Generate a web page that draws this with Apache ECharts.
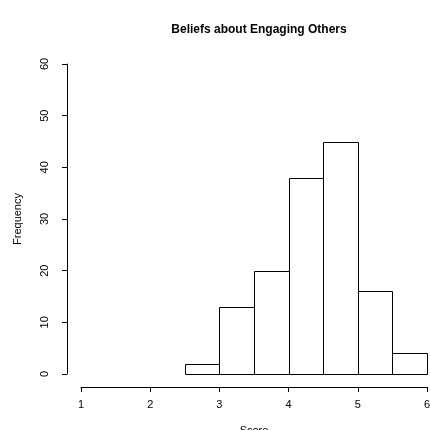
<!DOCTYPE html>
<html>
<head>
<meta charset="utf-8">
<script src="https://cdn.jsdelivr.net/npm/echarts@6/dist/echarts.min.js"></script>
<style>
  html, body { margin: 0; padding: 0; background: #fff; }
  #chart { width: 430px; height: 430px; }
</style>
</head>
<body>
<div id="chart"></div>
<script>
// Histogram bins (left edge, right edge) and their counts
const binStarts = [2.5, 3.0, 3.5, 4.0, 4.5, 5.0, 5.5];
const binEnds   = [3.0, 3.5, 4.0, 4.5, 5.0, 5.5, 6.0];
const counts    = [2, 13, 20, 38, 45, 16, 4];

const xTicks = [1, 2, 3, 4, 5, 6];
const yTicks = [0, 10, 20, 30, 40, 50, 60];

const titleText = 'Beliefs about Engaging Others';
const xName = 'Score';
const yName = 'Frequency';

const font = 'Liberation Sans, Arial, Helvetica, sans-serif';

const data = binStarts.map((s, i) => [s, binEnds[i], counts[i]]);

const chart = echarts.init(document.getElementById('chart'), null, { renderer: 'canvas' });

chart.setOption({
  animation: false,
  backgroundColor: '#ffffff',
  title: {
    text: titleText,
    left: 254,
    textAlign: 'center',
    top: 19,
    textStyle: { fontFamily: font, fontWeight: 'bold', fontSize: 12, color: '#000' }
  },
  grid: { left: 81, right: 3, top: 64, bottom: 56, outerBoundsMode: 'none' },
  xAxis: {
    type: 'value',
    min: xTicks[0],
    max: xTicks[xTicks.length - 1],
    interval: 1,
    offset: 13,
    splitLine: { show: false },
    axisLine: { show: true, onZero: false, lineStyle: { color: '#000', width: 1 } },
    axisTick: { show: true, length: 5, lineStyle: { color: '#000' } },
    axisLabel: { fontFamily: font, fontSize: 11, color: '#000', margin: 12 }
  },
  yAxis: {
    type: 'value',
    min: yTicks[0],
    max: yTicks[yTicks.length - 1],
    interval: 10,
    offset: 14,
    splitLine: { show: false },
    axisLine: { show: true, onZero: false, lineStyle: { color: '#000', width: 1 } },
    axisTick: { show: true, length: 5, lineStyle: { color: '#000' } },
    axisLabel: { fontFamily: font, fontSize: 11, color: '#000', rotate: 90, margin: 17 }
  },
  graphic: [
    {
      type: 'text',
      x: 254, y: 425,
      style: { text: xName, font: '11px ' + font, fill: '#000', align: 'center', verticalAlign: 'top' }
    },
    {
      type: 'text',
      x: 18, y: 219,
      rotation: Math.PI / 2,
      style: { text: yName, font: '11px ' + font, fill: '#000', align: 'center', verticalAlign: 'middle' }
    }
  ],
  series: [{
    type: 'custom',
    data: data,
    encode: { x: [0, 1], y: 2 },
    renderItem: function (params, api) {
      const p0 = api.coord([api.value(0), 0]);
      const p1 = api.coord([api.value(1), api.value(2)]);
      return {
        type: 'rect',
        shape: {
          x: Math.round(p0[0]) + 0.5,
          y: Math.round(p1[1]) + 0.5,
          width: Math.round(p1[0]) - Math.round(p0[0]),
          height: Math.round(p0[1]) - Math.round(p1[1])
        },
        style: { fill: '#ffffff', stroke: '#000000', lineWidth: 1 }
      };
    }
  }]
});
</script>
</body>
</html>
